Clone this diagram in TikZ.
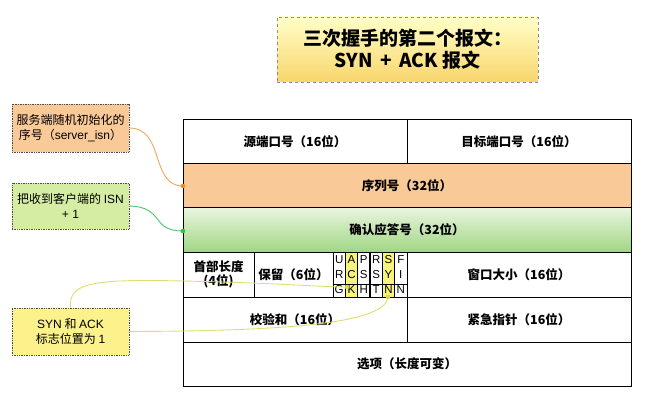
\documentclass[tikz,border=0pt]{standalone}
\usepackage{fontspec}
\setmainfont{Noto Sans CJK SC}
\newfontfamily\latf{Liberation Sans}
\usetikzlibrary{shadings}
\definecolor{peach}{HTML}{FAC998}
\definecolor{boxgreen}{HTML}{D5EDA3}
\definecolor{boxyellow}{HTML}{FBF28C}
\definecolor{flagyellow}{HTML}{F8F37A}
\definecolor{lnorange}{HTML}{F0A85C}
\definecolor{lngreen}{HTML}{4FC466}
\definecolor{lnyellow}{HTML}{DEDE6E}
\definecolor{dotyellow}{HTML}{D9DC3A}
\definecolor{dotgreen}{HTML}{22CC33}
\definecolor{dotorange}{HTML}{EE8A2A}
\tikzset{
  cell/.style={draw=black, line width=1pt, inner sep=0pt, font=\bfseries\fontsize{12.5}{14}\selectfont, align=center},
  flagcol/.style={cell, minimum width=12.33pt, minimum height=45pt, font=\latf\fontsize{11.5}{15}\selectfont},
  note/.style={draw=black!70, densely dotted, line width=0.7pt, minimum width=117pt, inner sep=0pt, align=center, font=\fontsize{12}{15}\selectfont},
  conn/.style={line width=0.9pt},
}
\begin{document}
\begin{tikzpicture}[x=1pt,y=-1pt]
\useasboundingbox (0,0) rectangle (653,414);
% title
\node[draw=black!45, dashed, line width=0.8pt, top color=yellow!22!white, bottom color={rgb,255:red,249;green,213;blue,108},
  minimum width=261pt, minimum height=65pt, align=center, font=\bfseries\fontsize{19}{22}\selectfont]
  (title) at (407.5,49.5) {三次握手的第二个报文：\\SYN\ \,+\ \,ACK 报文};
% table rows
\node[cell, minimum width=224pt, minimum height=44pt] (src) at (295,142) {源端口号（16位）};
\node[cell, minimum width=224pt, minimum height=44pt] (dst) at (519,142) {目标端口号（16位）};
\node[cell, fill=peach, minimum width=448pt, minimum height=44pt] (seq) at (407,186) {序列号（32位）};
\node[cell, top color={rgb,255:red,232;green,245;blue,222}, bottom color={rgb,255:red,160;green,214;blue,132}, minimum width=448pt, minimum height=44pt] (ack) at (407,230) {确认应答号（32位）};
\node[cell, minimum width=71pt, minimum height=45pt] (hlen) at (218.5,274.5) {首部长度\\(4位)};
\node[cell, minimum width=79pt, minimum height=45pt] (rsv) at (293.5,274.5) {保留（6位）};
\node[flagcol] (fU) at (339.17,274.5) {U\\R\\G};
\node[flagcol, fill=flagyellow] (fA) at (351.5,274.5) {A\\C\\K};
\node[flagcol] (fP) at (363.83,274.5) {P\\S\\H};
\node[flagcol] (fR) at (376.17,274.5) {R\\S\\T};
\node[flagcol, fill=flagyellow] (fS) at (388.5,274.5) {S\\Y\\N};
\node[flagcol] (fF) at (400.83,274.5) {F\\I\\N};
\draw[line width=0.7pt] ([yshift=13pt]fU.south west) -- ([yshift=13pt]fF.south east);
\node[cell, minimum width=224pt, minimum height=45pt] (win) at (519,274.5) {窗口大小（16位）};
\node[cell, minimum width=224pt, minimum height=45pt] (cks) at (295,319.5) {校验和（16位）};
\node[cell, minimum width=224pt, minimum height=45pt] (urg) at (519,319.5) {紧急指针（16位）};
\node[cell, minimum width=448pt, minimum height=44pt] (opt) at (407,364) {选项（长度可变）};
% notes
\node[note, fill=peach, minimum height=48pt] (n1) at (70.5,128) {服务端随机初始化的\\序号（{\latf server\_isn}）};
\node[note, fill=boxgreen, minimum height=46pt] (n2) at (70.5,206) {把收到客户端的 {\latf ISN}\\{\latf + 1}};
\node[note, fill=boxyellow, minimum height=47pt] (n3) at (70.5,331.5) {{\latf SYN} 和 {\latf ACK}\\标志位置为 {\latf 1}};
% connector endpoints
\coordinate (pseq) at (183,186);
\coordinate (pack) at (183,231);
\coordinate (pA) at (347,287);
\coordinate (pS) at (388,297);
% connectors
\draw[conn, lnorange] (n1.east) .. controls (165,128) and (150,186) .. (pseq);
\draw[conn, lngreen] (n2.east) .. controls (165,207) and (150,231) .. (pack);
\draw[conn, lnyellow] (n3.north) .. controls (68,282) and (95,279) .. (183,281) .. controls (280,283) and (320,287) .. (pA);
\draw[conn, lnyellow] (n3.east) .. controls (300,331) and (385,322) .. (pS);
\fill[dotorange] (pseq) circle (2.3pt);
\fill[dotgreen] (pack) circle (2.3pt);
\fill[dotyellow] (pA) circle (2.3pt);
\fill[dotyellow] (pS) circle (2.3pt);
\end{tikzpicture}
\end{document}
